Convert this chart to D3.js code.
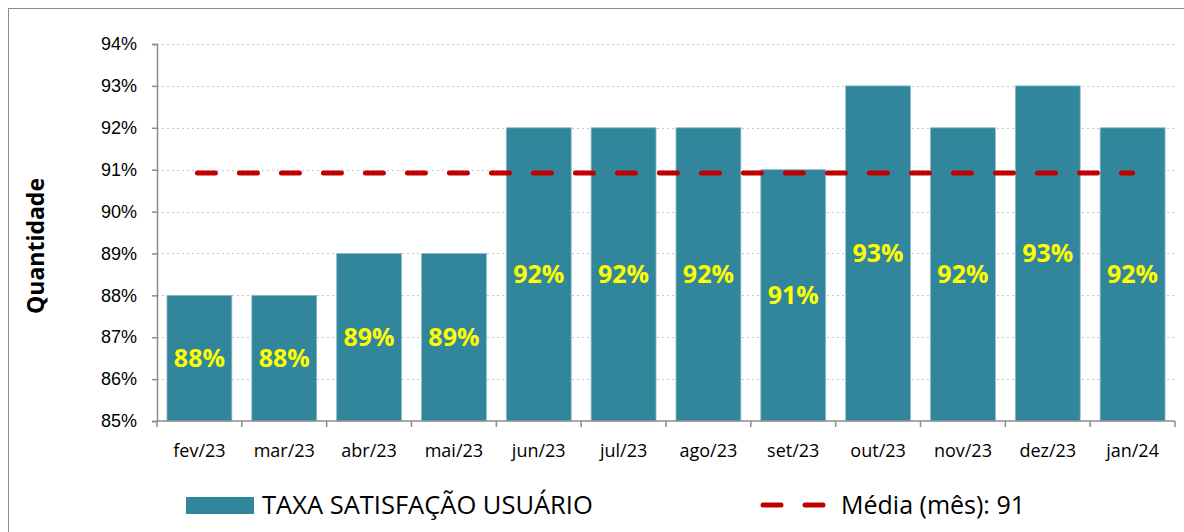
<!DOCTYPE html>
<html>
<head>
<meta charset="utf-8">
<script src="https://cdn.jsdelivr.net/npm/d3@7"></script>
<style>
  body { margin: 0; background: #fff; }
  svg { font-family: "Open Sans", "Noto Sans", sans-serif; }
</style>
</head>
<body>
<svg id="chart" width="1184" height="532"></svg>
<script>
var meses = ["fev/23", "mar/23", "abr/23", "mai/23", "jun/23", "jul/23", "ago/23", "set/23", "out/23", "nov/23", "dez/23", "jan/24"];
var taxa = [88, 88, 89, 89, 92, 92, 92, 91, 93, 92, 93, 92];
var media = 90.92;
var yTicks = [85, 86, 87, 88, 89, 90, 91, 92, 93, 94];

var svg = d3.select("#chart");
var margin = { left: 157, right: 9, top: 44, bottom: 111 };
var width = 1184 - margin.left - margin.right;
var height = 532 - margin.top - margin.bottom;

// moldura
svg.append("rect")
    .attr("x", 8.5).attr("y", 8.5)
    .attr("width", 1184).attr("height", 540)
    .attr("fill", "none")
    .attr("stroke", "#8c8c8c");

var g = svg.append("g").attr("transform", "translate(" + margin.left + "," + margin.top + ")");

var x = d3.scaleBand().domain(meses).range([0, width]).paddingInner(0.235).paddingOuter(0.1175);
var xTick = d3.scaleBand().domain(meses).range([0, width]);
var y = d3.scaleLinear().domain([85, 94]).range([height, 0]);

// grade pontilhada
g.selectAll(".grid")
    .data(yTicks.slice(1))
    .enter().append("line")
    .attr("x1", 0).attr("x2", width)
    .attr("y1", function(d) { return Math.round(y(d)) + 0.5; })
    .attr("y2", function(d) { return Math.round(y(d)) + 0.5; })
    .attr("stroke", "#c8c8c8")
    .attr("stroke-dasharray", "2,3");

// barras
g.selectAll(".bar")
    .data(taxa)
    .enter().append("rect")
    .attr("x", function(d, i) { return x(meses[i]); })
    .attr("y", function(d) { return y(d); })
    .attr("width", x.bandwidth())
    .attr("height", function(d) { return height - y(d); })
    .attr("fill", "#31869b")
    .attr("stroke", "#8fbccb")
    .attr("stroke-width", 0.8);

// eixo y
var yAxis = g.append("g")
    .call(d3.axisLeft(y).tickValues(yTicks).tickSize(5).tickFormat(function(d) { return d + "%"; }));
yAxis.select(".domain").attr("stroke", "#8c8c8c").attr("stroke-width", 1.5);
yAxis.selectAll(".tick line").attr("stroke", "#8c8c8c").attr("stroke-width", 1.5);
yAxis.selectAll("text").attr("font-size", 18).attr("fill", "#000").attr("x", -20);

// eixo x
var xAxis = g.append("g").attr("transform", "translate(0," + height + ")");
xAxis.append("line")
    .attr("x1", 0).attr("x2", width)
    .attr("stroke", "#8c8c8c").attr("stroke-width", 1.5);
xAxis.selectAll(".xtick")
    .data(meses.concat(["fim"]))
    .enter().append("line")
    .attr("x1", function(d, i) { return i * xTick.bandwidth(); })
    .attr("x2", function(d, i) { return i * xTick.bandwidth(); })
    .attr("y1", 0).attr("y2", 6)
    .attr("stroke", "#8c8c8c").attr("stroke-width", 1.5);
xAxis.selectAll(".xlabel")
    .data(meses)
    .enter().append("text")
    .attr("x", function(d) { return xTick(d) + xTick.bandwidth() / 2; })
    .attr("y", 36)
    .attr("text-anchor", "middle")
    .attr("font-size", 18)
    .text(function(d) { return d; });

// linha da média
g.append("line")
    .attr("x1", x(meses[0]) + x.bandwidth() / 2 - 2)
    .attr("x2", x(meses[meses.length - 1]) + x.bandwidth() / 2)
    .attr("y1", y(media)).attr("y2", y(media))
    .attr("stroke", "#c00000")
    .attr("stroke-width", 5)
    .attr("stroke-linecap", "round")
    .attr("stroke-dasharray", "18,24");

// rótulos
g.selectAll(".rotulo")
    .data(taxa)
    .enter().append("text")
    .attr("x", function(d, i) { return x(meses[i]) + x.bandwidth() / 2; })
    .attr("y", function(d) { return (y(d) + height) / 2; })
    .attr("dy", "0.36em")
    .attr("text-anchor", "middle")
    .attr("font-size", 25)
    .attr("font-weight", "bold")
    .attr("fill", "#ffff00")
    .text(function(d) { return d + "%"; });

// título do eixo y
svg.append("text")
    .attr("transform", "translate(44,246) rotate(-90)")
    .attr("text-anchor", "middle")
    .attr("font-size", 23)
    .attr("font-weight", "bold")
    .text("Quantidade");

// legenda
svg.append("rect")
    .attr("x", 186).attr("y", 497)
    .attr("width", 68).attr("height", 17)
    .attr("fill", "#31869b");
svg.append("text")
    .attr("x", 262).attr("y", 514)
    .attr("font-size", 25.5)
    .text("TAXA SATISFAÇÃO USUÁRIO");
svg.append("line")
    .attr("x1", 763).attr("x2", 827)
    .attr("y1", 505).attr("y2", 505)
    .attr("stroke", "#c00000")
    .attr("stroke-width", 5)
    .attr("stroke-linecap", "round")
    .attr("stroke-dasharray", "18,24");
svg.append("text")
    .attr("x", 841).attr("y", 514)
    .attr("font-size", 25)
    .text("Média (mês): 91");
</script>
</body>
</html>
